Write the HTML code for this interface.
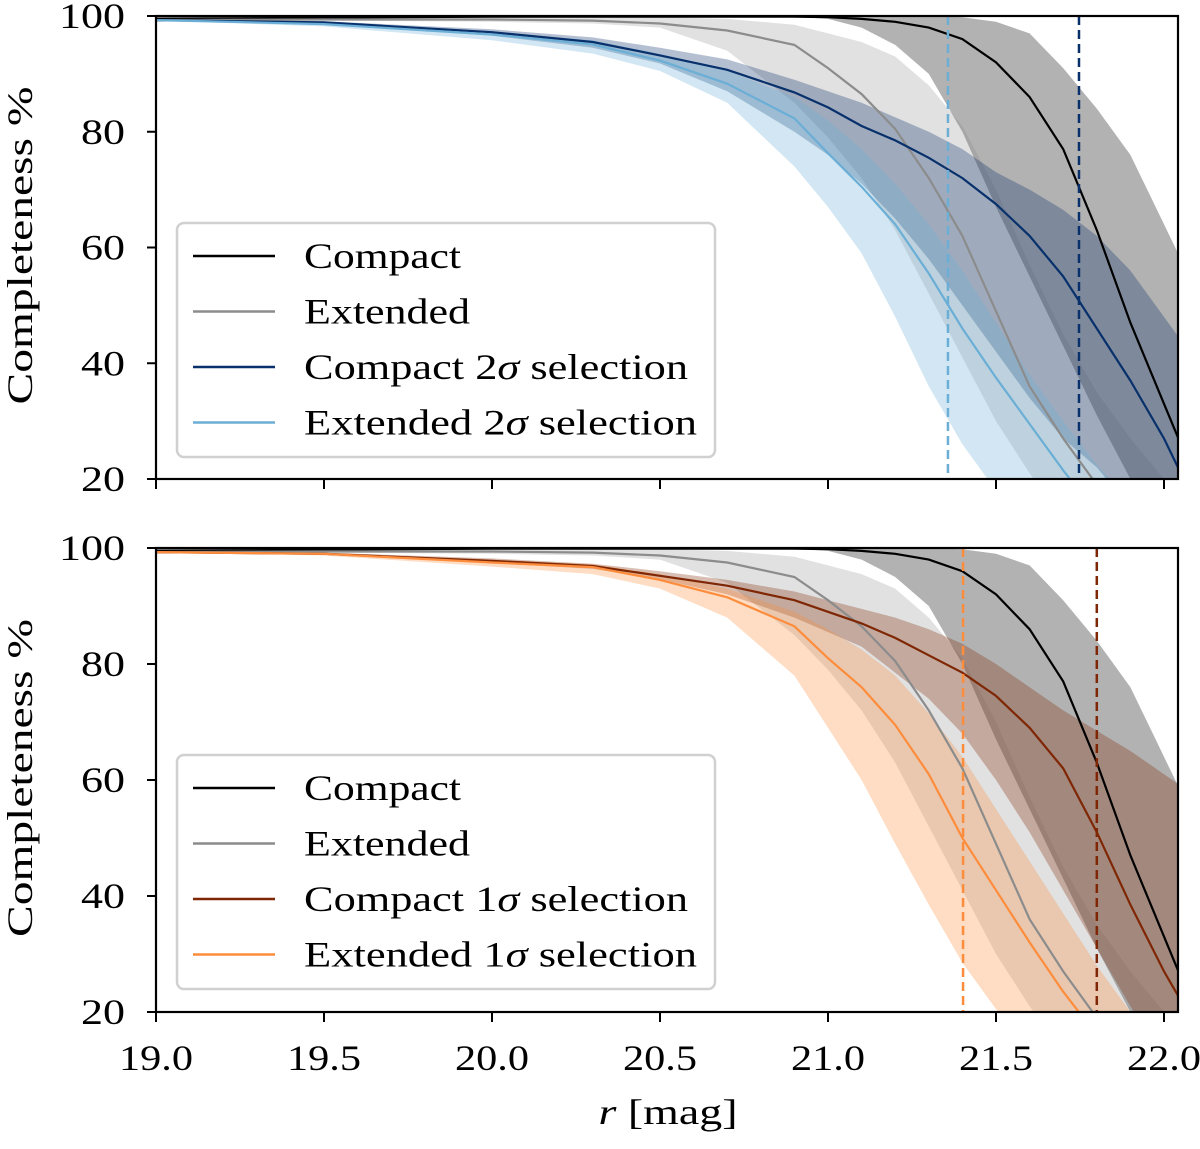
<!DOCTYPE html>
<html><head><meta charset="utf-8"><style>
body{margin:0;background:#fff}
svg text{font-family:"Liberation Serif",serif;fill:#000}
</style></head><body>
<svg id="c" width="1200" height="1144" viewBox="0 0 1200 1144" xmlns="http://www.w3.org/2000/svg"></svg>
<script>
const mags=[19.0,19.5,20.0,20.3,20.5,20.7,20.9,21.0,21.1,21.2,21.3,21.4,21.5,21.6,21.7,21.8,21.9,22.0,22.05];
const compactLine=[99.5,99.7,99.9,99.9,99.9,99.9,99.9,99.8,99.5,99,98,96,92,86,77,63,47,33,26];
const compactUp=[100,100,100,100,100,100,100,100,100,100,100,99.8,99,97,91,84,76,64,58];
const compactLo=[99.3,99.6,99.8,99.9,99.9,99.9,99.9,99.5,98,95,90,80,67,55,43,31,20,10,5];
const extLine=[99.3,99.4,99.4,99.2,98.7,97.5,95,91,86.5,80.5,72,62,49,36,27,19,12,5,2];
const extUp=[99.5,99.7,99.8,99.8,99.8,99.5,98.5,97,95.5,93,88,81,70,57,45,35,27,20,16];
const extLo=[99,99.2,99,98.7,98,94,85,79,72,63,52,41,30,21,13,6,0,0,0];
const navyLine=[99.3,98.9,97.2,95.5,93.2,90.7,86.8,84.2,81,78.5,75.5,72,67.5,62,55,46,37,27,21];
const navyUp=[99.4,99.1,97.7,96.3,94.5,92.5,89,87,85,82.5,80,77,73,70,66.5,62,56,48,44];
const navyLo=[99.2,98.6,96.6,94.5,91.8,87,80,76,71,65,58,50,42,34,27,22,15,8,5];
const lbLine=[99.3,98.6,96.8,95.1,92.3,88.3,82.3,76.3,70.5,64,55.5,46,37.5,29.5,21.5,14,8,3,0];
const lbUp=[99.4,98.9,97.3,95.8,93.5,90.5,86,82,77,71,64,56,47,38,30,22.5,16,10,7];
const lbLo=[99.2,98.2,95.8,93.5,90.5,85,74,67,59,48,36,26,18,12,8,5,2,0,0];
const brLine=[99.3,99,97.8,96.9,95.2,93.5,91,89,87,84.5,81.5,78.5,74.5,69,62,51,38.5,27,22];
const brUp=[99.4,99.2,98.2,97.3,96,94.5,92.5,91,89.5,88,86,83.5,80,76,72,68.5,65,61,59];
const brLo=[99.2,98.8,97.4,96.4,94.6,92,88,85.5,83,78.5,74,68,60,51,41,31,21,12,8];
const orLine=[99.3,99,97.5,96.7,94.5,91.5,86.5,81,76,69.5,61,50,41,32,23.5,16,10,5,3];
const orUp=[99.4,99.2,98,97.2,95.5,93,89,86,82.5,78,71.5,64,55,46,37,28,20,13,10];
const orLo=[99.2,98.7,96.8,95.5,93,88,78,69,60,49,38.5,28.5,20.5,14,9,5,2,0,0];
const xTicks=[19.0,19.5,20.0,20.5,21.0,21.5,22.0];
const xTickLabels=["19.0","19.5","20.0","20.5","21.0","21.5","22.0"];
const yTicks=[100,80,60,40,20];
const dashTop=[21.357,21.747];
const dashBot=[21.402,21.80];

const NS="http://www.w3.org/2000/svg";
const svg=document.getElementById('c');
function mk(tag,attrs,parent){const e=document.createElementNS(NS,tag);for(const k in attrs)e.setAttribute(k,attrs[k]);(parent||svg).appendChild(e);return e;}
const X0=156,X1=1178;
const sx=m=>X0+(m-19)*336;

function panel(top,bot,idx,series,dashes,dashColors,legendItems,showX){
  const sy=v=>bot-(v-20)*(bot-top)/80;
  const g=mk('g',{});
  
  
  const cp=mk('clipPath',{id:'clip'+idx},g);
  mk('rect',{x:X0,y:top,width:X1-X0,height:bot-top},cp);
  const plot=mk('g',{'clip-path':'url(#clip'+idx+')'},g);
  series.forEach(s=>{
    let d='M';
    mags.forEach((m,i)=>{d+=sx(m).toFixed(1)+','+sy(s.up[i]).toFixed(1)+' L';});
    for(let i=mags.length-1;i>=0;i--){d+=sx(mags[i]).toFixed(1)+','+sy(s.lo[i]).toFixed(1)+(i?' L':' Z');}
    const b=mk('path',{d:d,fill:s.fill,'fill-opacity':s.op,stroke:'none'},plot);
    
    
  });
  series.forEach(s=>{
    const pts=mags.map((m,i)=>sx(m).toFixed(1)+','+sy(s.line[i]).toFixed(1)).join(' ');
    const l=mk('polyline',{points:pts,fill:'none',stroke:s.color,'stroke-width':2.2},plot);
    
    
  });
  dashes.forEach((m,i)=>{
    const l=mk('line',{x1:sx(m),x2:sx(m),y1:top,y2:bot,stroke:dashColors[i],'stroke-width':2.5,'stroke-dasharray':'9,5'},plot);
    
    
  });
  const fr=mk('rect',{x:X0,y:top,width:X1-X0,height:bot-top,fill:'none',stroke:'#000','stroke-width':2.2},g);
  
  
  yTicks.forEach(v=>{
    mk('line',{x1:X0-9,x2:X0,y1:sy(v),y2:sy(v),stroke:'#000','stroke-width':2},g);
    const s=String(v);
    const t=mk('text',{x:X0-31,y:sy(v)+12,'text-anchor':'end','font-size':36,textLength:s.length*22,lengthAdjust:'spacingAndGlyphs'},g);
    t.textContent=s;
    
    
  });
  xTicks.forEach((m,i)=>{
    mk('line',{x1:sx(m),x2:sx(m),y1:bot,y2:bot+10,stroke:'#000','stroke-width':2},g);
    if(showX){
      const t=mk('text',{x:sx(m),y:bot+58,'text-anchor':'middle','font-size':36,textLength:74,lengthAdjust:'spacingAndGlyphs'},g);
      t.textContent=xTickLabels[i];
      
      
    }
  });
  const yl=mk('text',{x:0,y:0,'text-anchor':'middle','font-size':36,textLength:318,lengthAdjust:'spacingAndGlyphs',transform:'translate(32,'+((top+bot)/2-2)+') rotate(-90)'},g);
  yl.textContent='Completeness %';
  
  
  const lg=mk('g',{},g);
  
  
  mk('rect',{x:177,y:top+207,width:538,height:234,rx:7,fill:'#fff','fill-opacity':0.8,stroke:'#d0d0d0','stroke-width':2.5},lg);
  legendItems.forEach((it,i)=>{
    const y=top+240+i*55.5;
    mk('line',{x1:193,x2:275,y1:y,y2:y,stroke:it.color,'stroke-width':2.4},lg);
    const t=mk('text',{x:304,y:y+12,'font-size':36,textLength:it.w,lengthAdjust:'spacingAndGlyphs'},lg);
    t.innerHTML=it.label;
    
    
  });
}
const gC={name:'compact',line:compactLine,up:compactUp,lo:compactLo,color:'#000',fill:'#000',op:0.3};
const gE={name:'extended',line:extLine,up:extUp,lo:extLo,color:'#8c8c8c',fill:'#808080',op:0.24};
panel(16,479,'top',[gC,gE,
 {name:'compact-2sigma',line:navyLine,up:navyUp,lo:navyLo,color:'#08306b',fill:'#08306b',op:0.3},
 {name:'extended-2sigma',line:lbLine,up:lbUp,lo:lbLo,color:'#6baed6',fill:'#6baed6',op:0.3}],dashTop,['#6baed6','#08306b'],
 [{color:'#000',label:'Compact',w:157},{color:'#8c8c8c',label:'Extended',w:166},{color:'#08306b',label:'Compact 2<tspan font-style="italic">σ</tspan> selection',w:384},{color:'#6baed6',label:'Extended 2<tspan font-style="italic">σ</tspan> selection',w:393}],false);
panel(548,1012,'bottom',[gC,gE,
 {name:'compact-1sigma',line:brLine,up:brUp,lo:brLo,color:'#7f2704',fill:'#7f2704',op:0.3},
 {name:'extended-1sigma',line:orLine,up:orUp,lo:orLo,color:'#fd8d3c',fill:'#fd8d3c',op:0.3}],dashBot,['#fd8d3c','#7f2704'],
 [{color:'#000',label:'Compact',w:157},{color:'#8c8c8c',label:'Extended',w:166},{color:'#7f2704',label:'Compact 1<tspan font-style="italic">σ</tspan> selection',w:384},{color:'#fd8d3c',label:'Extended 1<tspan font-style="italic">σ</tspan> selection',w:393}],true);
const xl=mk('text',{x:668,y:1124,'text-anchor':'middle','font-size':36,textLength:139,lengthAdjust:'spacingAndGlyphs'});
xl.innerHTML='<tspan font-style="italic">r</tspan> [mag]';


</script>
</body></html>
